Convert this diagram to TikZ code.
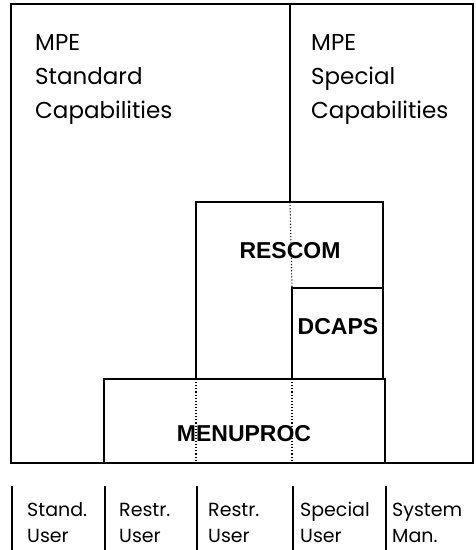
\documentclass[tikz,border=0pt]{standalone}
\usepackage{fontspec}
\setmainfont{Poppins}
\newfontfamily\modfont{Liberation Sans}
\usetikzlibrary{positioning}
\tikzset{
  frame/.style={draw=black,line width=1.1pt},
  hidden/.style={draw=black,line width=1.1pt,dotted},
  modlab/.style={font=\modfont\bfseries\fontsize{23}{26}\selectfont,inner sep=0pt},
  area/.style={font=\fontsize{23}{34}\selectfont,align=left,anchor=base west,inner sep=0pt},
  usr/.style={font=\fontsize{19}{26}\selectfont,align=left,anchor=base west,inner sep=0pt},
}

\begin{document}
\begin{tikzpicture}[x=1pt,y=-1pt]
\useasboundingbox (0,0) rectangle (476,550);
% outer frame and capability split
\coordinate (ntl) at (11,4);
\coordinate (nbr) at (473,463);
\coordinate (ntop) at (290,4);
\coordinate (nmid) at (290,202);
\draw[frame] (ntl) rectangle (nbr);
\draw[frame] (ntop)--(nmid);
% modules
\coordinate (rtl) at (196,202);
\coordinate (rbr) at (383,379);
\coordinate (dtl) at (292,288);
\coordinate (mtl) at (104,379);
\coordinate (mbr) at (385,463);
\draw[frame] (rtl) rectangle (rbr);
\draw[frame] (dtl) rectangle (rbr);
\draw[frame,fill=white] (mtl) rectangle (mbr);
\draw[hidden] (nmid)--(dtl);
\draw[hidden] (196,379)--(196,463);
\draw[hidden] (292,379)--(292,463);
\node[area] (std) at (35,118) {MPE\\Standard\\Capabilities};
\node[area] (spc) at (311,118) {MPE\\Special\\Capabilities};
\node[modlab] (rescom) at (290,251) {RESCOM};
\node[modlab] (dcaps) at (338,327) {DCAPS};
\node[modlab] (menu) at (244,434) {MENUPROC};
% user classes
\foreach \x in {12,105,197,293,386}
  \draw[frame] (\x,486)--(\x,550);
\node[usr] (u1) at (27,542) {Stand.\\User};
\node[usr] (u2) at (119,542) {Restr.\\User};
\node[usr] (u3) at (208,542) {Restr.\\User};
\node[usr] (u4) at (300,542) {Special\\User};
\node[usr] (u5) at (392,542) {System\\Man.};
\end{tikzpicture}
\end{document}
